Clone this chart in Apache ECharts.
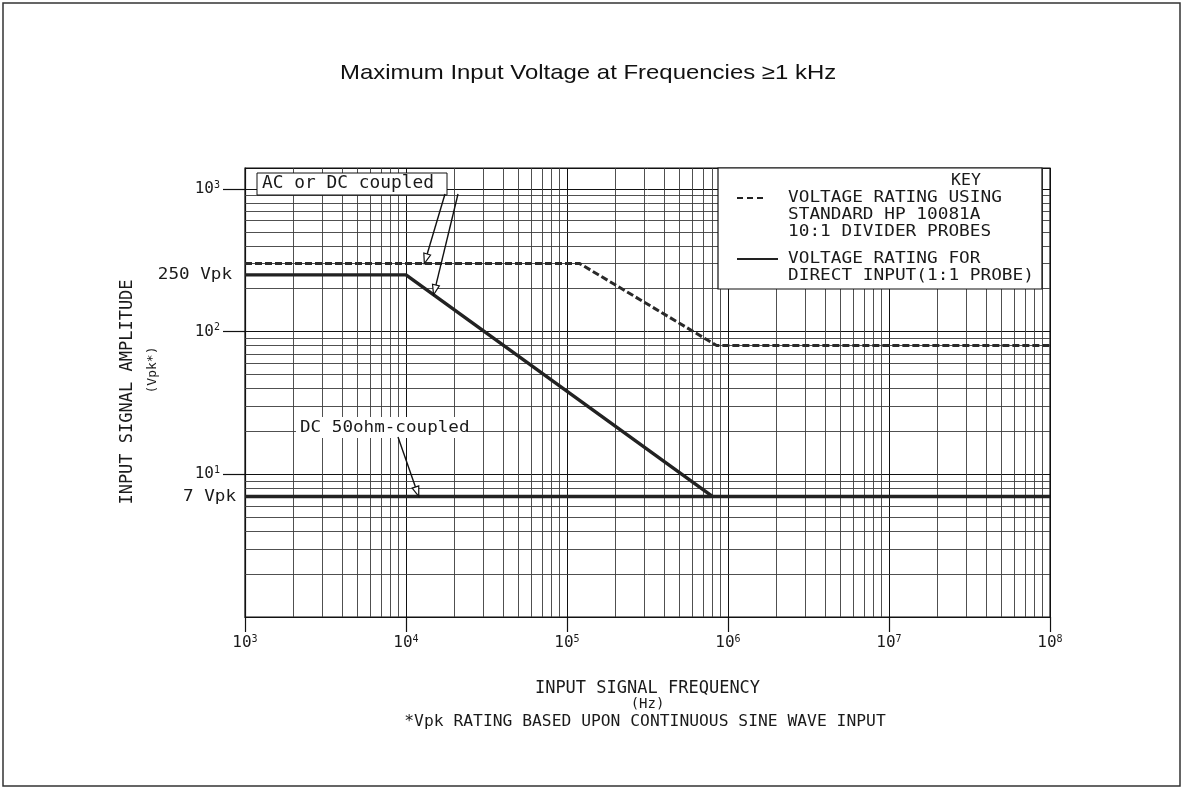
<!DOCTYPE html>
<html>
<head>
<meta charset="utf-8">
<script src="https://cdn.jsdelivr.net/npm/echarts@6/dist/echarts.min.js"></script>
<style>
  html, body { margin: 0; padding: 0; background: #fff; }
  #main { width: 1183px; height: 790px; }
</style>
</head>
<body>
<div id="main"></div>
<script>
// values: frequency in Hz, amplitude in Vpk
const probeFreq = [1e3, 1.2e5, 8.5e5, 1e8];
const probeVolt = [300, 300, 80, 80];
const directFreq = [1e3, 1e4, 8e5];
const directVolt = [250, 250, 7];
const dc50Freq = [1e3, 1e8];
const dc50Volt = [7, 7];

// log paper grid
const minorSteps = [2, 3, 4, 5, 6, 7, 8, 9];
const xDecades = [1e3, 1e4, 1e5, 1e6, 1e7];
const yDecades = [1, 10, 100];

const MONO = '"DejaVu Sans Mono", monospace';
const INK = '#1a1a1a';

function zip(xs, ys) {
  return xs.map((x, i) => [x, ys[i]]);
}

const xMinor = [];
xDecades.forEach(d => minorSteps.forEach(s => xMinor.push(d * s)));
const yMinor = [];
yDecades.forEach(d => minorSteps.forEach(s => yMinor.push(d * s)));

// grid 0 holds the data and runs a little above 10^3,
// grid 1 carries the labelled 10..1000 scale (no tick at the bottom corner)
const gridTop = 168, scaleTop = 189, gridBottom = 173;
const plotH = 790 - gridTop - gridBottom;
const scaleH = 790 - scaleTop - gridBottom;
const yTop = Math.pow(10, 3 * plotH / scaleH);
const scaleBottom = gridBottom + scaleH / 3;

function powLabel(v) {
  const e = Math.round(Math.log10(v));
  if (Math.abs(Math.pow(10, e) - v) > 1e-6 * v) return '';
  return '10{sup|' + e + '}';
}

const labelRich = {
  sup: { fontSize: 10, fontFamily: MONO, color: INK, verticalAlign: 'top', lineHeight: 10 }
};

const chart = echarts.init(document.getElementById('main'));

chart.setOption({
  animation: false,
  backgroundColor: '#fff',
  grid: [
    { left: 245, right: 133, top: gridTop, bottom: gridBottom, show: true, borderColor: '#111', borderWidth: 1.2, backgroundColor: 'transparent' },
    { left: 245, right: 133, top: scaleTop, bottom: scaleBottom }
  ],
  xAxis: [
    {
      type: 'log', logBase: 10, gridIndex: 0, min: 1e3, max: 1e8,
      axisLine: { show: true, lineStyle: { color: '#111', width: 1.2 } },
      axisTick: { show: true, length: 15, lineStyle: { color: '#111', width: 1.2 } },
      axisLabel: {
        formatter: powLabel, margin: 17,
        fontFamily: MONO, fontSize: 16, color: INK, lineHeight: 18, rich: labelRich
      },
      splitLine: { show: true, lineStyle: { color: '#111', width: 1 } },
      name: 'INPUT SIGNAL FREQUENCY\n{s|(Hz)}',
      nameLocation: 'middle',
      nameGap: 63,
      nameTextStyle: {
        fontFamily: MONO, fontSize: 17, color: INK, lineHeight: 17,
        rich: { s: { fontFamily: MONO, fontSize: 14, color: INK, lineHeight: 15 } }
      }
    },
    { type: 'log', logBase: 10, gridIndex: 1, min: 1e3, max: 1e8, show: false }
  ],
  yAxis: [
    {
      type: 'log', logBase: 10, gridIndex: 0, min: 1, max: yTop,
      axisLine: { show: true, lineStyle: { color: '#111', width: 1.2 } },
      axisTick: { show: false },
      axisLabel: { show: false },
      splitLine: { show: true, lineStyle: { color: '#111', width: 1 } }
    },
    {
      type: 'log', logBase: 10, gridIndex: 1, min: 10, max: 1000,
      axisLine: { show: false },
      axisTick: { show: true, length: 22, lineStyle: { color: '#111', width: 1.2 } },
      axisLabel: {
        formatter: powLabel, margin: 25,
        fontFamily: MONO, fontSize: 16, color: INK, lineHeight: 18, rich: labelRich
      },
      splitLine: { show: false }
    }
  ],
  series: [
    {
      type: 'line', xAxisIndex: 0, yAxisIndex: 0, data: [], z: 1, silent: true,
      markLine: {
        silent: true, symbol: ['none', 'none'], animation: false,
        label: { show: false },
        lineStyle: { color: '#3c3c3c', width: 0.9, type: 'solid' },
        emphasis: { disabled: true },
        data: xMinor.map(v => ({ xAxis: v })).concat(yMinor.map(v => ({ yAxis: v })))
      }
    },
    {
      name: '10:1 divider probes', type: 'line', xAxisIndex: 0, yAxisIndex: 0,
      data: zip(probeFreq, probeVolt), symbol: 'none', z: 5,
      lineStyle: { color: '#2a2a2a', width: 3, type: [7, 3] }
    },
    {
      name: 'AC or DC coupled', type: 'line', xAxisIndex: 0, yAxisIndex: 0,
      data: zip(directFreq, directVolt), symbol: 'none', z: 6,
      lineStyle: { color: '#222', width: 3.4 }
    },
    {
      name: 'DC 50ohm-coupled', type: 'line', xAxisIndex: 0, yAxisIndex: 0,
      data: zip(dc50Freq, dc50Volt), symbol: 'none', z: 6,
      lineStyle: { color: '#222', width: 3.4 }
    }
  ]
});

// annotations positioned from the axes
function px(x, y) {
  return chart.convertToPixel({ xAxisIndex: 0, yAxisIndex: 0 }, [x, y]);
}
function along(a, b, t) {
  return [a[0] + (b[0] - a[0]) * t, a[1] + (b[1] - a[1]) * t];
}
function arrow(from, to) {
  const dx = to[0] - from[0], dy = to[1] - from[1];
  const len = Math.sqrt(dx * dx + dy * dy);
  const ux = dx / len, uy = dy / len;
  const hl = 10, hw = 3.5;
  const base = [to[0] - ux * hl, to[1] - uy * hl];
  return [
    { type: 'line', z: 20, shape: { x1: from[0], y1: from[1], x2: base[0], y2: base[1] }, style: { stroke: '#111', lineWidth: 1.4 } },
    { type: 'polygon', z: 20, shape: { points: [to, [base[0] - uy * hw, base[1] + ux * hw], [base[0] + uy * hw, base[1] - ux * hw]] },
      style: { fill: '#fff', stroke: '#111', lineWidth: 1.2 } }
  ];
}
// plotter lettering is wider than any installed mono face, so stretch it a little
function txt(x, y, text, opts, sx) {
  return {
    type: 'text', z: 15, x: x, y: y, scaleX: sx || 1,
    style: Object.assign({ text: text, fontFamily: MONO, fontSize: 16, fill: INK, align: 'left', verticalAlign: 'middle' }, opts || {})
  };
}

const p250 = px(directFreq[0], directVolt[0]);
const p7 = px(dc50Freq[0], dc50Volt[0]);
const probeTip = px(1.3e4, probeVolt[0]);
const directTip = along(px(directFreq[1], directVolt[1]), px(directFreq[2], directVolt[2]), 0.09);
const dcTip = px(1.2e4, dc50Volt[0]);

const lx = 718, ly = 168, lw = 324, lh = 121;
const graphics = [
  { type: 'rect', z: 0, silent: true, shape: { x: 3, y: 3, width: 1177, height: 783 }, style: { fill: 'none', stroke: '#333', lineWidth: 1.5 } },
  // title
  { type: 'text', z: 15, x: 340, y: 73, scaleX: 1.14,
    style: { text: 'Maximum Input Voltage at Frequencies \u22651 kHz', fontFamily: 'Liberation Sans, Arial', fontSize: 21, fill: '#111', align: 'left', verticalAlign: 'middle' } },
  // y axis title
  { type: 'text', z: 15, x: 128, y: 392, rotation: Math.PI / 2,
    style: { text: 'INPUT SIGNAL AMPLITUDE', fontFamily: MONO, fontSize: 17, fill: INK, align: 'center', verticalAlign: 'middle' } },
  { type: 'text', z: 15, x: 153, y: 370, rotation: Math.PI / 2,
    style: { text: '(Vpk*)', fontFamily: MONO, fontSize: 13, fill: INK, align: 'center', verticalAlign: 'middle' } },
  txt(232, p250[1], '250 Vpk', { align: 'right' }, 1.1),
  txt(236, p7[1], '7 Vpk', { align: 'right' }, 1.1),
  // AC or DC coupled label
  { type: 'rect', z: 14, shape: { x: 257, y: 173, width: 190, height: 22 }, style: { fill: '#fff', stroke: '#111', lineWidth: 1 } },
  txt(262, 184, 'AC or DC coupled', { fontSize: 17 }, 1.05),
  // DC 50 ohm label
  { type: 'rect', z: 14, shape: { x: 296, y: 417, width: 172, height: 21 }, style: { fill: '#fff', stroke: 'none' } },
  txt(300, 428, 'DC 50ohm-coupled', { fontSize: 16 }, 1.1),
  // key box
  { type: 'rect', z: 14, shape: { x: lx, y: ly, width: lw, height: lh }, style: { fill: '#fff', stroke: '#111', lineWidth: 1.2 } },
  txt(966, 181, 'KEY', { align: 'center', fontSize: 15 }, 1.1),
  { type: 'line', z: 15, shape: { x1: 737, y1: 198, x2: 765, y2: 198 }, style: { stroke: '#222', lineWidth: 2, lineDash: [6, 4] } },
  txt(788, 198, 'VOLTAGE RATING USING', null, 1.11),
  txt(788, 215, 'STANDARD HP 10081A', null, 1.11),
  txt(788, 232, '10:1 DIVIDER PROBES', null, 1.11),
  { type: 'line', z: 15, shape: { x1: 737, y1: 259, x2: 778, y2: 259 }, style: { stroke: '#222', lineWidth: 2 } },
  txt(788, 259, 'VOLTAGE RATING FOR', null, 1.11),
  txt(788, 276, 'DIRECT INPUT(1:1 PROBE)', null, 1.11),
  // footnote
  txt(645, 722, '*Vpk RATING BASED UPON CONTINUOUS SINE WAVE INPUT', { align: 'center', fontSize: 16 }, 1.02)
]
  .concat(arrow([445, 194], probeTip))
  .concat(arrow([458, 194], directTip))
  .concat(arrow([398, 437], dcTip));

chart.setOption({ graphic: graphics });
</script>
</body>
</html>
